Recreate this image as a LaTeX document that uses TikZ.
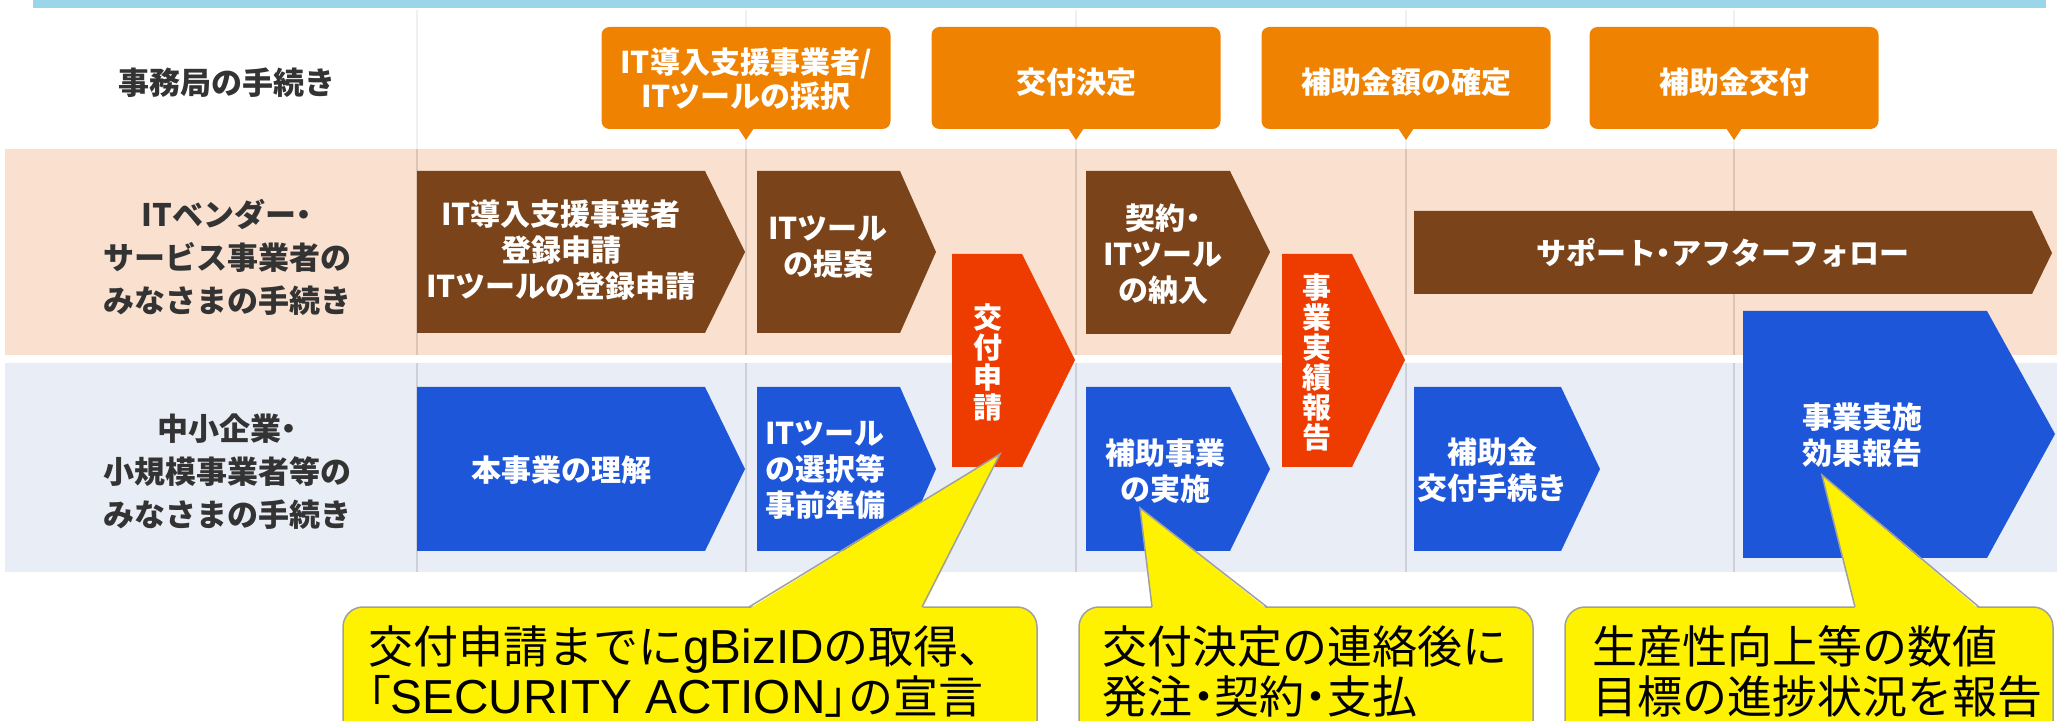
\documentclass[tikz,border=0pt]{standalone}
\usepackage{fontspec}
\setmainfont{Noto Sans CJK JP}
\newfontfamily\latinfont[Scale=1.06]{Liberation Sans}
\newcommand{\pw}[1]{{\addfontfeature{RawFeature=+palt}#1}}
\usepackage{tikz}

\definecolor{barblue}{RGB}{155,213,234}
\definecolor{rowpink}{RGB}{249,224,207}
\definecolor{rowgray}{RGB}{233,237,245}
\definecolor{boxorange}{RGB}{239,130,0}
\definecolor{boxbrown}{RGB}{122,67,25}
\definecolor{boxred}{RGB}{238,60,0}
\definecolor{boxblue}{RGB}{30,86,217}
\definecolor{labelgray}{RGB}{51,51,51}
\definecolor{notegray}{RGB}{160,160,160}

\tikzset{
	x=0.5pt, y=-0.5pt,
	lbl/.style = {text=labelgray, align=center, font=\bfseries\fontsize{15.5}{21.5}\selectfont},
	ttl/.style = {text=white, align=center, font=\bfseries\fontsize{15}{17}\selectfont},
	steptxt/.style = {text=white, align=center, font=\bfseries\fontsize{15}{18}\selectfont},
	vtxt/.style = {text=white, align=center, font=\bfseries\fontsize{14.5}{15}\selectfont},
	note/.style = {anchor=north west, inner sep=0pt, align=left, font=\fontsize{22.5}{25}\selectfont},
	notebox/.style = {fill=yellow, draw=notegray, line width=0.75pt},
	divider/.style = {line width=0.75pt},
}

\begin{document}
\begin{tikzpicture}
		\useasboundingbox (0,0) rectangle (2057,721);
		\clip (0,0) rectangle (2057,721);

		\fill[barblue] (33,0) rectangle (2046,8);
		\fill[rowpink] (5,149) rectangle (2057,355);
		\fill[rowgray] (5,363) rectangle (2057,572);

		\foreach \x in {417,746,1076,1406,1734} {
			\draw[divider, gray!12] (\x,10) -- (\x,149);
			\draw[divider, rowpink!88!black] (\x,149) -- (\x,355);
			\draw[divider, rowgray!88!black] (\x,363) -- (\x,572);
		}

		\foreach \x in {746,1076,1406,1734} {
			\fill[boxorange, rounded corners=4pt] (\x-144.5,27) rectangle (\x+144.5,129);
			\fill[boxorange] (\x-8,128) -- (\x+8,128) -- (\x,140) -- cycle;
		}

		\node[lbl] at (227,83) (office) {事務局の手続き};
		\node[lbl] at (227,257) (vendor) {ITベンダー\pw{・}\\サービス事業者の\\みなさまの手続き};
		\node[lbl] at (227,472) (smb) {中小企業\pw{・}\\小規模事業者等の\\みなさまの手続き};

		\node[ttl] at (746,79) (adopt) {IT導入支援事業者/\\ITツールの採択};
		\node[ttl] at (1076,82) (decide) {交付決定};
		\node[ttl] at (1406,82) (confirm) {補助金額の確定};
		\node[ttl] at (1734,82) (grant) {補助金交付};

		\fill[boxbrown] (417,171) -- (705,171) -- (745,252) -- (705,333) -- (417,333) -- cycle;
		\fill[boxbrown] (757,171) -- (900,171) -- (936,252) -- (900,333) -- (757,333) -- cycle;
		\fill[boxbrown] (1086,171) -- (1230,171) -- (1270,252) -- (1230,334) -- (1086,334) -- cycle;
		\fill[boxbrown] (1414,211) -- (2032,211) -- (2052,253) -- (2032,294) -- (1414,294) -- cycle;

		\node[steptxt] at (561,250) (register) {IT導入支援事業者\\登録申請\\ITツールの登録申請};
		\node[steptxt] at (828,247) (propose) {ITツール\\の提案};
		\node[steptxt] at (1163,254) (deliver) {契約\pw{・}\\ITツール\\の納入};
		\node[steptxt] at (1723,253) (support) {サポート\pw{・}アフターフォロー};

		\fill[boxblue] (417,387) -- (705,387) -- (745,469) -- (705,551) -- (417,551) -- cycle;
		\fill[boxblue] (757,387) -- (900,387) -- (936,469) -- (900,551) -- (757,551) -- cycle;
		\fill[boxblue] (1086,387) -- (1230,387) -- (1270,469) -- (1230,551) -- (1086,551) -- cycle;
		\fill[boxblue] (1414,387) -- (1561,387) -- (1600,469) -- (1561,551) -- (1414,551) -- cycle;
		\fill[boxblue] (1743,311) -- (1987,311) -- (2055,434) -- (1987,558) -- (1743,558) -- cycle;

		\node[steptxt] at (561,470) (understand) {本事業の理解};
		\node[steptxt] at (825,470) (prepare) {ITツール\\の選択等\\事前準備};
		\node[steptxt] at (1165,471) (execute) {補助事業\\の実施};
		\node[steptxt] at (1492,470) (procedure) {補助金\\交付手続き};
		\node[steptxt] at (1862,435) (effect) {事業実施\\効果報告};

		\fill[boxred] (952,254) -- (1022,254) -- (1075,360) -- (1022,467) -- (952,467) -- cycle;
		\fill[boxred] (1282,254) -- (1352,254) -- (1405,360) -- (1352,467) -- (1282,467) -- cycle;

		\node[vtxt] at (988,362) (apply) {交\\付\\申\\請};
		\node[vtxt] at (1317,362) (result) {事\\業\\実\\績\\報\\告};

		\filldraw[notebox, rounded corners=10pt] (343,607) rectangle (1037,760);
		\fill[yellow] (749,609) -- (1000,454) -- (922,609) -- cycle;
		\draw[notegray, line width=0.75pt] (749,607) -- (1000,454) -- (922,607);

		\filldraw[notebox, rounded corners=10pt] (1079,607) rectangle (1533,760);
		\fill[yellow] (1152,609) -- (1140,508) -- (1267,609) -- cycle;
		\draw[notegray, line width=0.75pt] (1152,607) -- (1140,508) -- (1267,607);

		\filldraw[notebox, rounded corners=10pt] (1565,607) rectangle (2053,760);
		\fill[yellow] (1855,609) -- (1822,475) -- (1979,609) -- cycle;
		\draw[notegray, line width=0.75pt] (1855,607) -- (1822,475) -- (1979,607);

		\node[note] at (368,625) (gbiz) {交付申請までに{\latinfont gBizID}の取得、\\\pw{「}{\latinfont SECURITY ACTION}\pw{」}の宣言};
		\node[note] at (1102,625) (order) {交付決定の連絡後に\\発注\pw{・}契約\pw{・}支払};
		\node[note] at (1592,625) (report) {生産性向上等の数値\\目標の進捗状況を報告};
	\end{tikzpicture}
\end{document}
